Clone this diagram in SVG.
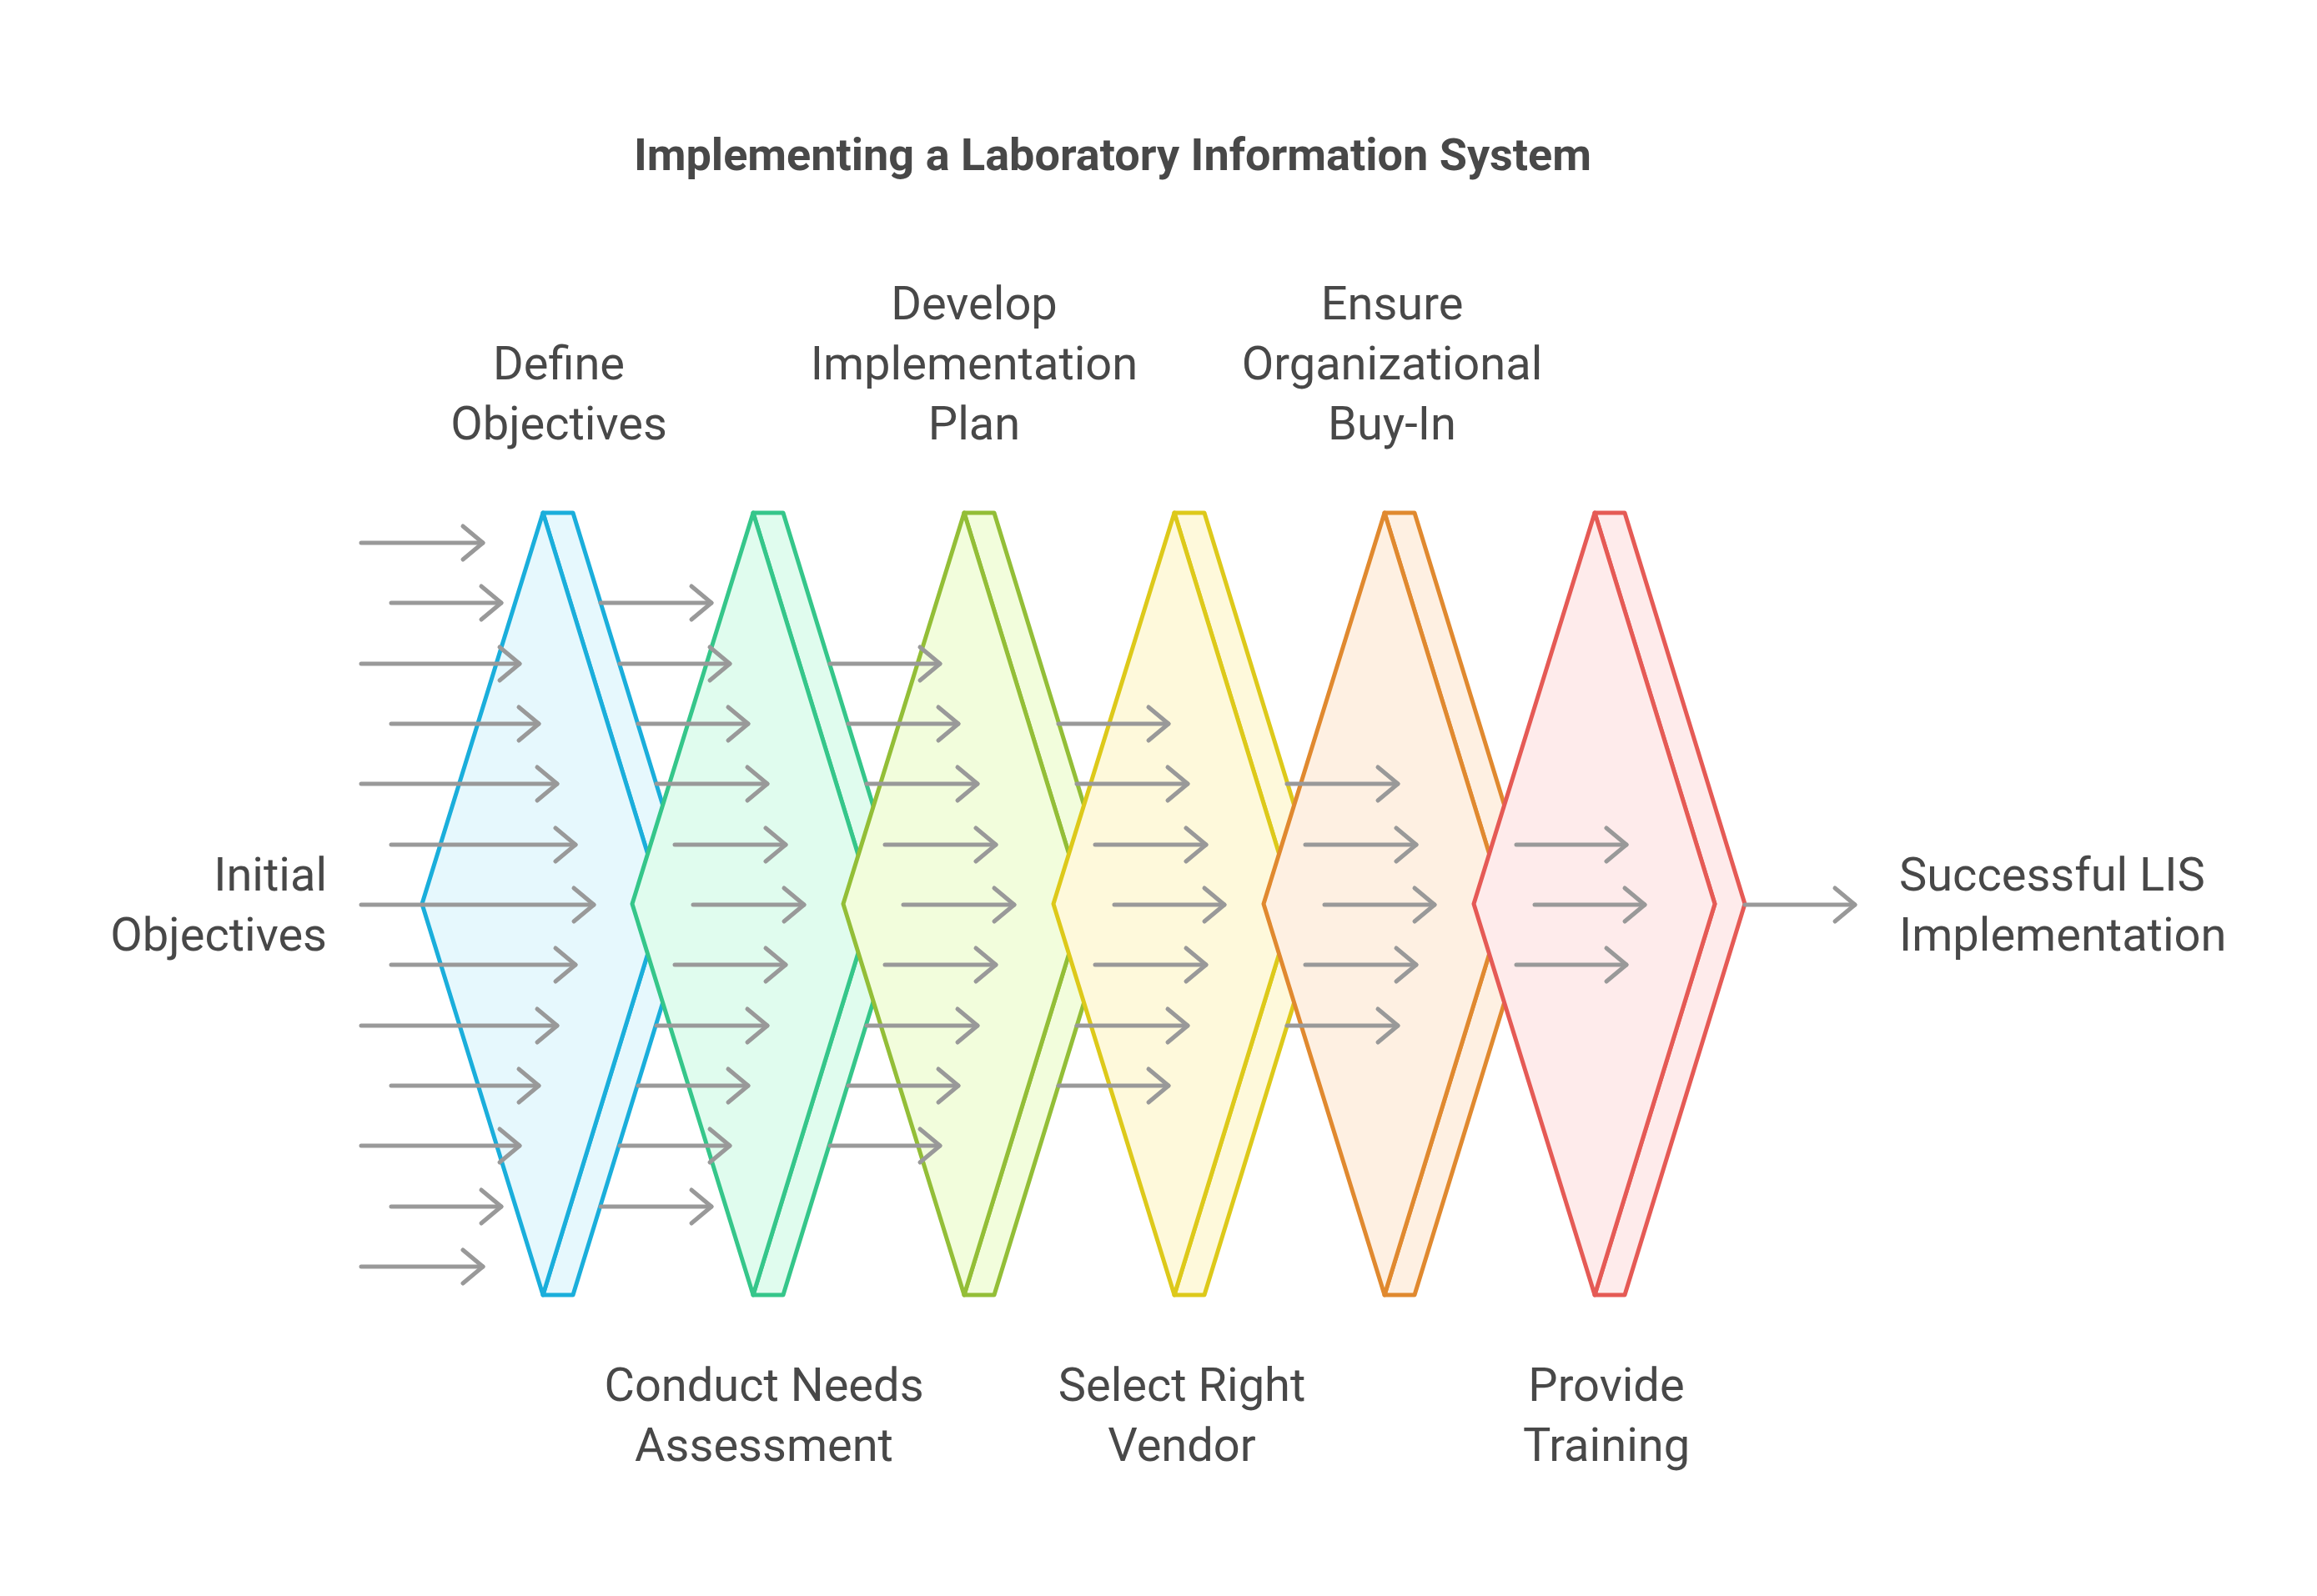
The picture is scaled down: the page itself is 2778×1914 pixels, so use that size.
<svg xmlns="http://www.w3.org/2000/svg" width="2778" height="1914" viewBox="0 0 2778 1914">
<style>
.t{font-family:Roboto,"Liberation Sans",sans-serif;fill:#484848;font-size:56px}
.title{font-family:Roboto,"Liberation Sans",sans-serif;fill:#484848;font-size:54px;font-weight:bold}
.c path{stroke-width:5;stroke-linejoin:round}
.a{fill:none;stroke:#999;stroke-width:5;stroke-linecap:round;stroke-linejoin:round}
</style>
<defs>
<marker id="h" markerUnits="userSpaceOnUse" markerWidth="40" markerHeight="60" refX="34" refY="30" orient="auto" viewBox="0 0 40 60">
<path d="M10 10 L34 30 L10 50" fill="none" stroke="#999" stroke-width="5" stroke-linecap="round" stroke-linejoin="round"/>
</marker>
</defs>
<rect width="2778" height="1914" fill="#fff"/>
<text class="title" x="1334" y="204" text-anchor="middle">Implementing a Laboratory Information System</text>

<g id="n1" class="c"><path d="M651 615 L687 615 L831 1084 L687 1553 L651 1553 L795 1084 Z" fill="#E6F8FD" stroke="#1AAEDB"/><path d="M651 615 L795 1084 L651 1553 L506 1084 Z" fill="#E6F8FD" stroke="#1AAEDB"/></g>
<g id="n2" class="c"><path d="M903 615 L939 615 L1083 1084 L939 1553 L903 1553 L1047 1084 Z" fill="#E0FCEE" stroke="#35C68A"/><path d="M903 615 L1047 1084 L903 1553 L758 1084 Z" fill="#E0FCEE" stroke="#35C68A"/></g>
<g id="n3" class="c"><path d="M1156 615 L1192 615 L1336 1084 L1192 1553 L1156 1553 L1300 1084 Z" fill="#F2FDDC" stroke="#93BE37"/><path d="M1156 615 L1300 1084 L1156 1553 L1011 1084 Z" fill="#F2FDDC" stroke="#93BE37"/></g>
<g id="n4" class="c"><path d="M1408 615 L1444 615 L1588 1084 L1444 1553 L1408 1553 L1552 1084 Z" fill="#FEF9DB" stroke="#DDC91A"/><path d="M1408 615 L1552 1084 L1408 1553 L1263 1084 Z" fill="#FEF9DB" stroke="#DDC91A"/></g>
<g id="n5" class="c"><path d="M1660 615 L1696 615 L1840 1084 L1696 1553 L1660 1553 L1804 1084 Z" fill="#FEF0E2" stroke="#E0892F"/><path d="M1660 615 L1804 1084 L1660 1553 L1515 1084 Z" fill="#FEF0E2" stroke="#E0892F"/></g>
<g id="n6" class="c"><path d="M1912 615 L1948 615 L2092 1084 L1948 1553 L1912 1553 L2056 1084 Z" fill="#FEEBEB" stroke="#E55A55"/><path d="M1912 615 L2056 1084 L1912 1553 L1767 1084 Z" fill="#FEEBEB" stroke="#E55A55"/></g>

<g id="connectors" class="a" marker-end="url(#h)">
<path d="M433 651H579"/><path d="M469 723H601"/><path d="M433 796H623"/><path d="M469 868H646"/><path d="M433 940H668"/><path d="M469 1013H690"/><path d="M433 1085H712"/><path d="M469 1157H690"/><path d="M433 1230H668"/><path d="M469 1302H646"/><path d="M433 1374H623"/><path d="M469 1447H601"/><path d="M433 1519H579"/>

<path d="M720 723H853"/><path d="M743 796H875"/><path d="M765 868H897"/><path d="M787 940H920"/><path d="M809 1013H942"/><path d="M831 1085H964"/><path d="M809 1157H942"/><path d="M787 1230H920"/><path d="M765 1302H897"/><path d="M743 1374H875"/><path d="M720 1447H853"/>

<path d="M995 796H1127"/><path d="M1017 868H1149"/><path d="M1039 940H1172"/><path d="M1061 1013H1194"/><path d="M1083 1085H1216"/><path d="M1061 1157H1194"/><path d="M1039 1230H1172"/><path d="M1017 1302H1149"/><path d="M995 1374H1127"/>

<path d="M1269 868H1401"/><path d="M1291 940H1424"/><path d="M1313 1013H1446"/><path d="M1336 1085H1468"/><path d="M1313 1157H1446"/><path d="M1291 1230H1424"/><path d="M1269 1302H1401"/>

<path d="M1543 940H1676"/><path d="M1565 1013H1698"/><path d="M1588 1085H1720"/><path d="M1565 1157H1698"/><path d="M1543 1230H1676"/>

<path d="M1818 1013H1950"/><path d="M1840 1085H1972"/><path d="M1818 1157H1950"/>

<path d="M2092 1085H2224"/>
</g>

<g id="labels">
<text class="t" x="670" text-anchor="middle"><tspan x="670" y="455">Define</tspan><tspan x="670" y="527">Objectives</tspan></text>
<text class="t" text-anchor="middle"><tspan x="1168" y="383">Develop</tspan><tspan x="1168" y="455">Implementation</tspan><tspan x="1168" y="527">Plan</tspan></text>
<text class="t" text-anchor="middle"><tspan x="1669" y="383">Ensure</tspan><tspan x="1669" y="455">Organizational</tspan><tspan x="1669" y="527">Buy-In</tspan></text>
<text class="t" text-anchor="middle"><tspan x="916" y="1680">Conduct Needs</tspan><tspan x="916" y="1752">Assessment</tspan></text>
<text class="t" text-anchor="middle"><tspan x="1417" y="1680">Select Right</tspan><tspan x="1417" y="1752">Vendor</tspan></text>
<text class="t" text-anchor="middle"><tspan x="1926" y="1680">Provide</tspan><tspan x="1926" y="1752">Training</tspan></text>
<text class="t" text-anchor="end"><tspan x="392" y="1068">Initial</tspan><tspan x="392" y="1140">Objectives</tspan></text>
<text class="t"><tspan x="2277" y="1068">Successful LIS</tspan><tspan x="2277" y="1140">Implementation</tspan></text>
</g>
</svg>
